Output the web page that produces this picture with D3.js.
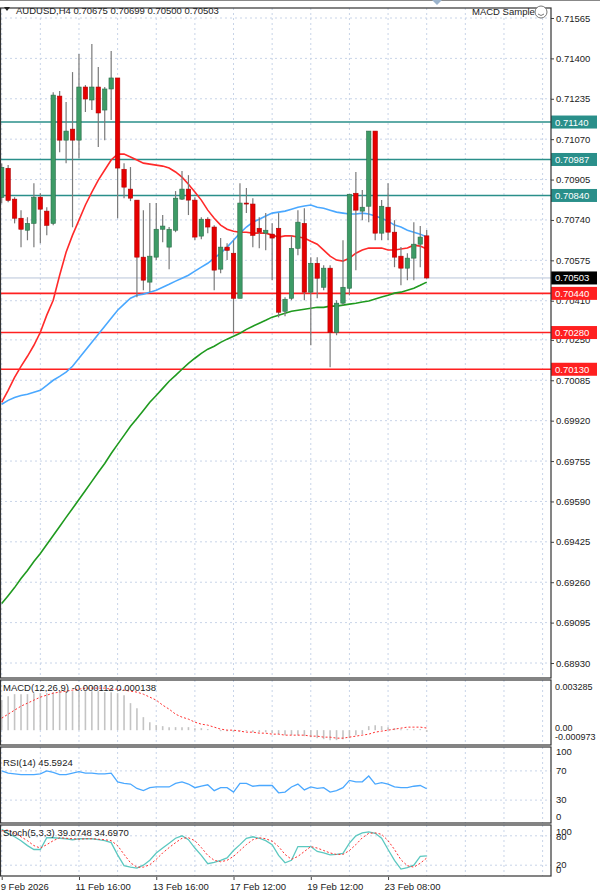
<!DOCTYPE html>
<html><head><meta charset="utf-8">
<script src="https://cdn.jsdelivr.net/npm/d3@7"></script>
<style>body{margin:0;background:#fff}svg{display:block}text{font-family:"Liberation Sans",Arial,sans-serif}</style>
</head><body><svg id="c" width="600" height="892"></svg>
<script>
// ---------- data ----------
const opens  = [.70832,.70951,.70825,.70747,.70698,.70726,.70833,.70776,.70726,.71246,.71066,.71111,.71066,.71283,.71230,.71283,.71189,.71275,.71320,.70947,.70866,.70821,.70588,.70486,.70588,.70702,.70629,.70698,.70825,.70866,.70821,.70674,.70743,.70711,.70539,.70629,.70604,.70420,.70809,.70805,.70706,.70686,.70682,.70706,.70367,.70420,.70624,.70726,.70445,.70563,.70465,.70543,.70281,.70400,.70461,.70849,.70776,.70796,.71103,.70686,.70792,.70690,.70592,.70543,.70584,.70641,.70675];
const highs  = [.70971,.70964,.70833,.70780,.70751,.70890,.70849,.70792,.71262,.71267,.71222,.71344,.71418,.71291,.71459,.71365,.71283,.71430,.71320,.70972,.70956,.70821,.70780,.70809,.70809,.70760,.70711,.70858,.70940,.70923,.70833,.70751,.70751,.70718,.70666,.70645,.70657,.70890,.70870,.70829,.70751,.70768,.70726,.70768,.70424,.70677,.70780,.70788,.70588,.70588,.70555,.70555,.70412,.70657,.70845,.70936,.70862,.71103,.71103,.70821,.70890,.70739,.70629,.70604,.70731,.70715,.70699];
const lows   = [.70808,.70812,.70726,.70628,.70657,.70628,.70645,.70677,.70718,.71017,.70972,.70710,.70992,.71181,.71189,.71038,.71066,.71148,.70747,.70829,.70817,.70424,.70453,.70445,.70576,.70649,.70539,.70690,.70821,.70760,.70657,.70661,.70686,.70453,.70522,.70576,.70277,.70420,.70768,.70628,.70624,.70616,.70494,.70342,.70347,.70412,.70596,.70412,.70228,.70420,.70453,.70138,.70269,.70392,.70432,.70535,.70739,.70731,.70657,.70657,.70657,.70547,.70473,.70494,.70494,.70547,.70500];
const closes = [.70955,.70820,.70747,.70702,.70726,.70833,.70784,.70718,.71250,.71066,.71103,.71066,.71283,.71234,.71283,.71177,.71275,.71320,.70952,.70874,.70829,.70588,.70494,.70592,.70702,.70715,.70702,.70829,.70866,.70821,.70670,.70743,.70711,.70535,.70629,.70616,.70420,.70809,.70805,.70677,.70690,.70698,.70666,.70363,.70416,.70624,.70731,.70445,.70563,.70502,.70543,.70281,.70400,.70465,.70845,.70780,.70792,.71103,.70686,.70796,.70690,.70588,.70543,.70584,.70641,.70670,.70503];
const maFast = [.69995,.70044,.70097,.70142,.70183,.70228,.70281,.70351,.70412,.70514,.70608,.70678,.70739,.70801,.70854,.70903,.70944,.70985,.71009,.71009,.70997,.70985,.70972,.70968,.70964,.70960,.70952,.70936,.70915,.70886,.70854,.70821,.70780,.70747,.70719,.70702,.70694,.70690,.70690,.70686,.70686,.70686,.70678,.70670,.70675,.70675,.70670,.70666,.70653,.70641,.70617,.70592,.70576,.70572,.70584,.70604,.70617,.70625,.70625,.70625,.70617,.70617,.70621,.70625,.70637,.70633,.70621];
const maMid  = [.69987,.70003,.70015,.70023,.70028,.70036,.70044,.70064,.70085,.70101,.70118,.70142,.70175,.70208,.70240,.70273,.70306,.70338,.70371,.70396,.70420,.70432,.70437,.70445,.70453,.70465,.70477,.70490,.70502,.70514,.70531,.70547,.70563,.70584,.70604,.70629,.70657,.70686,.70711,.70731,.70743,.70756,.70768,.70772,.70776,.70784,.70792,.70797,.70801,.70792,.70788,.70780,.70772,.70768,.70764,.70764,.70768,.70764,.70756,.70747,.70735,.70719,.70711,.70698,.70690,.70682,.70670];
const maSlow = [.69173,.69205,.69238,.69275,.69308,.69345,.69377,.69414,.69451,.69488,.69525,.69561,.69598,.69635,.69672,.69709,.69745,.69786,.69823,.69860,.69897,.69929,.69962,.69995,.70023,.70052,.70081,.70105,.70130,.70154,.70175,.70195,.70212,.70224,.70240,.70253,.70265,.70277,.70293,.70306,.70318,.70330,.70343,.70351,.70359,.70367,.70371,.70375,.70379,.70383,.70383,.70388,.70388,.70392,.70396,.70400,.70405,.70409,.70417,.70425,.70432,.70441,.70445,.70453,.70461,.70473,.70486];
const macdMain = [.001965,.002227,.002358,.002358,.002358,.002424,.002424,.002424,.002489,.002489,.002555,.002555,.002555,.002555,.002555,.002555,.002489,.002489,.002424,.002293,.001769,.001441,.000852,.000524,.000328,.000262,.000197,.000197,.000197,.000197,.000131,.000131,.000066,0,-.000066,-.000066,-.000131,-.000066,-.000066,-.000131,-.000131,-.000131,-.000197,-.000262,-.000328,-.000328,-.000328,-.000393,-.000459,-.000524,-.00059,-.000655,-.000655,-.00059,-.000524,-.000328,-.000262,.000262,.000328,.000262,.000197,.000131,.000066,.000066,.000066,.000066,-.000112];
const macdSignal = [.000786,.001048,.00131,.001572,.001769,.001965,.002162,.002293,.002424,.002489,.002555,.00262,.002686,.002751,.002751,.002751,.002751,.002686,.002686,.00262,.002555,.002489,.002358,.002162,.001965,.001638,.001376,.001048,.000852,.000721,.000524,.000393,.000328,.000197,.000066,0,0,-.000066,-.000131,-.000131,-.000197,-.000197,-.000262,-.000262,-.000328,-.000328,-.000328,-.000328,-.000393,-.000393,-.000459,-.000459,-.000524,-.000524,-.000459,-.000393,-.000328,-.000262,-.000131,-.000066,0,.000066,.000131,.000197,.000197,.000197,.000138];
const rsi = [70,67,66,65,65,65,66,70,68,65,65,67,69,67,67,66,66,67,55,53,52,46,43,47,48,48,48,53,55,52,47,49,51,43,47,47,41,53,53,49,50,50,50,40,41,48,52,44,48,46,47,41,43,47,57,55,55,63,52,54,52,48,47,47,49,50,45.59];
const stochMain = [93,85,78,70,60,52,52,76,76,75,74,72,74,74,74,72,70,66,41,19,16,14,20,30,45,55,65,75,80,72,55,40,23,26,30,35,50,62,75,78,75,70,62,40,25,30,58,58,58,48,45,41,42,44,65,80,86,88,85,75,52,30,12,15,20,38,39.07];
const stochSignal = [90,92,85,78,70,60,55,62,70,76,75,74,73,74,74,73,72,70,60,42,25,16,16,21,32,45,56,66,75,76,70,56,40,30,27,30,38,50,62,72,76,74,69,58,42,32,38,48,58,55,50,45,42,42,50,62,76,85,86,83,70,52,31,19,16,24,34.70];
const priceTicks = [0.71565,0.71400,0.71235,0.71070,0.70905,0.70740,0.70575,0.70410,0.70250,0.70085,0.69920,0.69755,0.69590,0.69425,0.69260,0.69095,0.68930];
const resistLevels = [0.71140,0.70987,0.70840];
const supportLevels = [0.70440,0.70280,0.70130];
const lastPrice = 0.70503;
const dateLabels = ["9 Feb 2026","11 Feb 16:00","13 Feb 16:00","17 Feb 12:00","19 Feb 12:00","23 Feb 08:00"];
const dateIdx = [0,12,24,36,48,60];

// ---------- layout ----------
const svg = d3.select("#c");
const AX = 551, W = 600;
const P = {main:[8,678], macd:[680,745], rsi:[747,823], sto:[825,876]};
const x = d3.scaleLinear().domain([0,66]).range([1.7,426.7]);
const y = d3.scaleLinear().domain([0.68930,0.71565]).range([663,18]);
const yM = d3.scaleLinear().domain([-0.000973,0.003285]).range([745,680]);
const yR = d3.scaleLinear().domain([0,100]).range([822,749]);
const yS = d3.scaleLinear().domain([0,100]).range([875,826]);
const f = 'font-size:9.5px;fill:#222';

svg.append("rect").attr("width",W).attr("height",892).attr("fill","#fff");
const defs = svg.append("defs");
Object.entries(P).forEach(([k,[a,b]])=>{
  defs.append("clipPath").attr("id","cp"+k).append("rect").attr("x",0).attr("y",a).attr("width",AX).attr("height",b-a);
});

const vIdx = d3.range(0,86,6);
Object.entries(P).forEach(([k,[a,b]])=>{
  const g = svg.append("g").attr("clip-path",`url(#cp${k})`);
  g.selectAll("line").data(vIdx).join("line")
    .attr("x1",d=>x(d)).attr("x2",d=>x(d)).attr("y1",a).attr("y2",b)
    .attr("stroke","#c8d4e8").attr("stroke-dasharray","2,3");
});
svg.append("g").selectAll("line").data(priceTicks).join("line")
  .attr("x1",0).attr("x2",AX).attr("y1",d=>y(d)).attr("y2",d=>y(d))
  .attr("stroke","#c8d4e8").attr("stroke-dasharray","2,3");
const axR = svg.append("g").attr("transform",`translate(${AX},0)`)
  .call(d3.axisRight(y).tickValues(priceTicks).tickFormat(d3.format(".5f")).tickSize(3));
axR.select(".domain").remove();
axR.selectAll("text").attr("style",f).attr("x",5);
axR.selectAll("line").attr("stroke","#444");

svg.append("line").attr("x1",0).attr("x2",AX).attr("y1",y(lastPrice)).attr("y2",y(lastPrice)).attr("stroke","#b8c4d8");

function level(v,col){
  svg.append("line").attr("x1",0).attr("x2",AX).attr("y1",y(v)).attr("y2",y(v)).attr("stroke",col).attr("stroke-width",1.6);
}
resistLevels.forEach(v=>level(v,"#2a8f8a"));
supportLevels.forEach(v=>level(v,"#ff2020"));

const mg = svg.append("g").attr("clip-path","url(#cpmain)");
const line = (arr,yy)=>d3.line().x((d,i)=>x(i)).y(d=>yy(d))(arr);
mg.append("path").attr("d",line(maSlow,y)).attr("fill","none").attr("stroke","#1f9a1f").attr("stroke-width",1.6);
mg.append("path").attr("d",line(maMid,y)).attr("fill","none").attr("stroke","#4aa8ff").attr("stroke-width",1.6);
mg.append("path").attr("d",line(maFast,y)).attr("fill","none").attr("stroke","#ff2a2a").attr("stroke-width",1.6);

const cg = mg.append("g");
const idx = d3.range(opens.length);
cg.selectAll("line").data(idx).join("line")
  .attr("x1",i=>x(i)).attr("x2",i=>x(i)).attr("y1",i=>y(highs[i])).attr("y2",i=>y(lows[i]))
  .attr("stroke","#7a7a7a").attr("stroke-width",1.2);
cg.selectAll("rect").data(idx).join("rect")
  .attr("x",i=>x(i)-2.2).attr("width",4.4)
  .attr("y",i=>y(Math.max(opens[i],closes[i])))
  .attr("height",i=>Math.max(1,Math.abs(y(opens[i])-y(closes[i]))))
  .attr("fill",i=>closes[i]>=opens[i]?"#3d9b66":"#e60000")
  .attr("stroke",i=>closes[i]>=opens[i]?"#2c6e4a":"#b00000").attr("stroke-width",0.6);

function tag(v,bg,fg){
  svg.append("rect").attr("x",AX).attr("y",y(v)-6.5).attr("width",46).attr("height",13).attr("fill",bg);
  svg.append("text").attr("x",AX+4).attr("y",y(v)+3.5).attr("style",`font-size:9.5px;fill:${fg}`).text(v.toFixed(5));
}
resistLevels.forEach(v=>tag(v,"#2a8f8a","#fff"));
supportLevels.forEach(v=>tag(v,"#ff2020","#fff"));
tag(lastPrice,"#000","#fff");

const gm = svg.append("g").attr("clip-path","url(#cpmacd)");
gm.selectAll("line").data(idx).join("line")
  .attr("x1",i=>x(i)).attr("x2",i=>x(i)).attr("y1",yM(0)).attr("y2",i=>yM(macdMain[i]))
  .attr("stroke","#c4c4c4").attr("stroke-width",1.6);
gm.append("path").attr("d",line(macdSignal,yM)).attr("fill","none").attr("stroke","#ff3030").attr("stroke-dasharray","2,2");
svg.append("text").attr("x",3).attr("y",691).attr("style",f).text("MACD(12,26,9) -0.000112 0.000138");
[["0.003285",690],["0.00",731],["-0.000973",740]].forEach(([t,yy])=>svg.append("text").attr("x",AX+4).attr("y",yy).attr("style",'font-size:9px;fill:#222').text(t));

[70,30].forEach(v=>svg.append("line").attr("x1",0).attr("x2",AX).attr("y1",yR(v)).attr("y2",yR(v)).attr("stroke","#c8d4e8").attr("stroke-dasharray","2,3"));
svg.append("path").attr("clip-path","url(#cprsi)").attr("d",line(rsi,yR)).attr("fill","none").attr("stroke","#4aa8ff").attr("stroke-width",1.3);
svg.append("text").attr("x",3).attr("y",766).attr("style",f).text("RSI(14) 45.5924");
[["100",755],["70",774],["30",803],["0",820]].forEach(([t,yy])=>svg.append("text").attr("x",AX+5).attr("y",yy).attr("style",f).text(t));

[80,20].forEach(v=>svg.append("line").attr("x1",0).attr("x2",AX).attr("y1",yS(v)).attr("y2",yS(v)).attr("stroke","#c8d4e8").attr("stroke-dasharray","2,3"));
svg.append("path").attr("clip-path","url(#cpsto)").attr("d",line(stochMain,yS)).attr("fill","none").attr("stroke","#5cc8c0").attr("stroke-width",1.3);
svg.append("path").attr("clip-path","url(#cpsto)").attr("d",line(stochSignal,yS)).attr("fill","none").attr("stroke","#ff3030").attr("stroke-dasharray","2,2");
svg.append("text").attr("x",3).attr("y",836).attr("style",f).text("Stoch(5,3,3) 39.0748 34.6970");
[["100",835],["80",840],["20",868],["0",873]].forEach(([t,yy])=>svg.append("text").attr("x",AX+5).attr("y",yy).attr("style",f).text(t));

Object.values(P).forEach(([a,b])=>{
  svg.append("rect").attr("x",0.5).attr("y",a).attr("width",AX-0.5).attr("height",b-a).attr("fill","none").attr("stroke","#333").attr("stroke-width",1.2);
});
svg.append("line").attr("x1",0).attr("x2",W).attr("y1",0.5).attr("y2",0.5).attr("stroke","#888");

const ta = svg.append("g").attr("transform","translate(0,877)")
  .call(d3.axisBottom(x).tickValues(dateIdx).tickFormat((d,i)=>dateLabels[i]).tickSize(3));
ta.select(".domain").remove();
ta.selectAll("line").attr("stroke","#444");
ta.selectAll("text").attr("style",f).attr("text-anchor","start").attr("dx",(d,i)=>i===0?-1.5:-4).attr("y",6);

svg.append("path").attr("d","M4,7 L10,7 L7,11 Z").attr("fill","#222");
svg.append("text").attr("x",16).attr("y",14).attr("style",f).text("AUDUSD,H4  0.70675 0.70699 0.70500 0.70503");
svg.append("text").attr("x",472).attr("y",15).attr("style",f).text("MACD Sample");
svg.append("circle").attr("cx",541).attr("cy",12).attr("r",6).attr("fill","#fff").attr("stroke","#777");
svg.append("path").attr("d","M538,14 Q541,17 544,14").attr("fill","none").attr("stroke","#777");
svg.append("path").attr("d","M432,0 L442,0 L437,5 Z").attr("fill","#9bb3cc");
</script></body></html>
